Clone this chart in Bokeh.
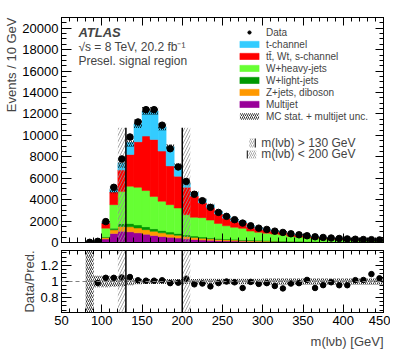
import numpy as np
from bokeh.plotting import figure
from bokeh.models import (Range1d, LinearAxis, FixedTicker, Legend, LegendItem,
                          Title, Label, Span, BoxAnnotation)
from bokeh.layouts import column
from bokeh.embed import file_html
from bokeh.resources import INLINE

FONT = "Liberation Sans"

# ---------------- data (10 GeV bins, 50-450 GeV) ----------------
bin_lo = list(range(50, 450, 10))
data = [0, 0, 0, 20, 110, 1950, 5150, 7800, 9850, 11250, 12400, 12400, 10950, 8750,
        7050, 5700, 4500, 3900, 3280, 2810, 2440, 2130, 1810, 1560, 1340, 1220, 1060,
        940, 815, 720, 630, 530, 470, 420, 375, 335, 305, 275, 265, 240]
multijet = [0, 0, 0, 30, 30, 330, 850, 1050, 1000, 900, 780, 660, 560, 480, 410, 340,
            280, 230, 200, 170, 150, 130, 112, 97, 85, 75, 66, 58, 51, 45, 40, 35, 31,
            27, 24, 21, 19, 17, 15, 13]
zjets = [0, 0, 0, 10, 10, 130, 330, 450, 470, 450, 420, 380, 340, 300, 260, 220, 190,
         160, 140, 120, 105, 92, 80, 70, 62, 55, 49, 44, 39, 35, 31, 28, 25, 22, 20, 18,
         16, 14, 13, 12]
wlight = [0, 0, 0, 10, 8, 80, 160, 250, 300, 290, 270, 240, 210, 190, 170, 150, 130,
          115, 100, 90, 80, 72, 65, 58, 52, 47, 42, 38, 34, 30, 27, 24, 21, 19, 17, 15,
          13, 12, 11, 10]
wheavy = [0, 0, 0, 30, 50, 800, 2190, 3000, 3480, 3510, 3380, 3020, 2740, 2560, 2380,
          1890, 1750, 1815, 1650, 1400, 1225, 1126, 1063, 841, 754, 695, 633, 590, 471,
          415, 342, 325, 277, 237, 222, 199, 168, 152, 136, 133]
ttbar = [0, 0, 0, 5, 12, 470, 1185, 2010, 2965, 4250, 5080, 5320, 4680, 3620, 2960,
         2550, 1980, 1380, 1149, 882, 710, 587, 522, 397, 336, 291, 259, 232, 185, 161,
         135, 126, 105, 90, 84, 75, 64, 57, 52, 49]
tchan = [0, 0, 0, 2, 2, 56, 213, 670, 1121, 1684, 2347, 2657, 2258, 1779, 977, 357,
         333, 300, 250, 205, 170, 145, 125, 105, 92, 82, 73, 65, 56, 49, 43, 38, 33, 29,
         26, 23, 20, 18, 16, 14]
mc_unc = [0, 0, 0, 0.9, 0.07, 0.07, 0.065, 0.06, 0.045, 0.035, 0.03, 0.03, 0.03, 0.03,
          0.03, 0.03, 0.03, 0.035, 0.035, 0.035, 0.035, 0.035, 0.035, 0.035, 0.035,
          0.04, 0.04, 0.04, 0.04, 0.04, 0.04, 0.04, 0.04, 0.04, 0.04, 0.04, 0.04, 0.04,
          0.04, 0.04]
cut_low, cut_high = 130, 200
bin_width = 10

series = [("Multijet", multijet, "#990099"),
          ("Z+jets, diboson", zjets, "#FF9900"),
          ("W+light-jets", wlight, "#009900"),
          ("W+heavy-jets", wheavy, "#66FF33"),
          ("tt\u0304, Wt, s-channel", ttbar, "#FF0000"),
          ("t-channel", tchan, "#33CCFF")]

lo = np.array(bin_lo, dtype=float)
hi = lo + bin_width
ctr = lo + bin_width / 2
dat = np.array(data, dtype=float)

x_major = list(range(50, 451, 50))
x_minor = list(range(50, 451, 10))
y_major = list(range(0, 20001, 2000))
y_minor = list(range(0, 21001, 500))
r_major = [0.8, 1.0, 1.2]
r_minor = [round(0.6 + 0.05 * i, 2) for i in range(17)]

# ---------------- main panel ----------------
p1 = figure(frame_width=322, frame_height=225, x_range=Range1d(50, 450),
            y_range=Range1d(0, 21000), output_backend="svg", toolbar_location=None,
            min_border_left=60, min_border_right=8, min_border_top=17, min_border_bottom=8)
p1.grid.visible = False
p1.outline_line_color = "black"


def style_axis(ax, ticks, labels=True, major=9, minor=5):
    ax.major_tick_in = major
    ax.major_tick_out = 0
    ax.minor_tick_in = minor
    ax.minor_tick_out = 0
    ax.axis_line_color = "black"
    ax.major_tick_line_color = "black"
    ax.minor_tick_line_color = "black"
    ax.major_label_text_font = FONT
    ax.major_label_text_font_size = "13px"
    ax.major_label_text_color = "black"
    if not labels:
        ax.major_label_overrides = {t: "" for t in ticks}
        ax.major_label_text_font_size = "1px"
        ax.major_label_standoff = 0
    else:
        ax.major_label_standoff = 3


xt = FixedTicker(ticks=x_major, minor_ticks=x_minor)
yt = FixedTicker(ticks=y_major, minor_ticks=y_minor)
rt = FixedTicker(ticks=r_major, minor_ticks=r_minor)

p1.xaxis.ticker = xt
p1.yaxis.ticker = yt
style_axis(p1.xaxis[0], x_major, labels=False, major=9, minor=5)
style_axis(p1.yaxis[0], y_major, labels=True, major=10, minor=5)
ax_top = LinearAxis(ticker=xt)
style_axis(ax_top, x_major, labels=False, major=8, minor=4)
p1.add_layout(ax_top, "above")
ax_right = LinearAxis(ticker=yt)
style_axis(ax_right, y_major, labels=False, major=8, minor=4)
p1.add_layout(ax_right, "right")

bottom = np.zeros(len(lo))
rends = {}
for name, vals, col in series:
    v = np.array(vals, dtype=float)
    r = p1.quad(left=lo, right=hi, bottom=bottom, top=bottom + v,
                fill_color=col, line_color=col, line_width=0.5)
    rends[name] = r
    bottom = bottom + v
total = bottom

has_mc = total > 0
unc = np.array(mc_unc) * total
r_unc = p1.quad(left=lo[has_mc], right=hi[has_mc], bottom=(total - unc)[has_mc],
                top=(total + unc)[has_mc], fill_alpha=0, line_alpha=0,
                hatch_pattern="right_diagonal_line", hatch_color="black",
                hatch_scale=4, hatch_weight=0.8)

# selection cut markers
cut_top = 10700
p1.quad(left=[cut_low - bin_width, cut_high], right=[cut_low, cut_high + bin_width],
        bottom=[0, 0], top=[cut_top, cut_top], fill_alpha=0, line_alpha=0,
        hatch_pattern="right_diagonal_line", hatch_color="#909090", hatch_scale=6,
        hatch_weight=0.8)
p1.segment(x0=[cut_low, cut_high], y0=[0, 0], x1=[cut_low, cut_high],
           y1=[cut_top, cut_top], line_color="black", line_width=1.5)

has_dat = dat > 0
r_data = p1.scatter(x=ctr[has_dat], y=dat[has_dat], size=6.5, color="black")

legend_items = [LegendItem(label="Data", renderers=[r_data])]
for name, vals, col in reversed(series):
    legend_items.append(LegendItem(label=name, renderers=[rends[name]]))
legend_items.append(LegendItem(label="MC stat. + multijet unc.", renderers=[r_unc]))
leg = Legend(items=legend_items, location=(176, 120), glyph_width=24, glyph_height=8,
             label_height=12, label_standoff=5, padding=0, margin=0, spacing=0,
             label_text_font=FONT, label_text_font_size="10px",
             background_fill_alpha=0, border_line_alpha=0)
p1.add_layout(leg)

# cut legend
p1.quad(left=[283.3, 282.0], right=[289.5, 292.0], bottom=[8867, 7840],
        top=[9707, 8587], fill_alpha=0, line_alpha=0,
        hatch_pattern="right_diagonal_line", hatch_color="#909090", hatch_scale=4,
        hatch_weight=0.8)
p1.segment(x0=[290.7, 280.8], y0=[8867, 7840], x1=[290.7, 280.8], y1=[9707, 8587],
           line_color="black", line_width=1)
for txt, yv in [("m(l\u03bdb) > 130 GeV", 9290), ("m(l\u03bdb) < 200 GeV", 8220)]:
    p1.add_layout(Label(x=298, y=yv, text=txt, text_font=FONT, text_font_size="12px",
                        text_baseline="middle"))

p1.add_layout(Label(x=71, y=19590, text="ATLAS", text_font=FONT, text_font_size="13px",
                    text_font_style="bold italic", text_baseline="middle"))
p1.add_layout(Label(x=71, y=18280, text="\u221as = 8 TeV, 20.2 fb\u207b\u00b9",
                    text_font=FONT, text_font_size="12px", text_baseline="middle"))
p1.add_layout(Label(x=71, y=16960, text="Presel. signal region", text_font=FONT,
                    text_font_size="12px", text_baseline="middle"))

p1.add_layout(Title(text="Events / 10 GeV", align="right", text_font=FONT,
                    text_font_size="13px", text_font_style="normal", standoff=2), "left")

# ---------------- ratio panel ----------------
p2 = figure(frame_width=322, frame_height=62, x_range=p1.x_range,
            y_range=Range1d(0.62, 1.38), output_backend="svg", toolbar_location=None,
            min_border_left=60, min_border_right=8, min_border_top=0, min_border_bottom=4)
p2.grid.visible = False
p2.outline_line_color = "black"
p2.xaxis.ticker = xt
p2.yaxis.ticker = rt
style_axis(p2.xaxis[0], x_major, labels=True, major=8, minor=4)
style_axis(p2.yaxis[0], r_major, labels=True, major=10, minor=5)
p2.yaxis.major_label_overrides = {1: "1"}
ax_top2 = LinearAxis(ticker=xt)
style_axis(ax_top2, x_major, labels=False, major=8, minor=4)
p2.add_layout(ax_top2, "above")
ax_right2 = LinearAxis(ticker=rt)
style_axis(ax_right2, r_major, labels=False, major=8, minor=4)
p2.add_layout(ax_right2, "right")

rel = np.array(mc_unc)
p2.quad(left=lo[has_mc], right=hi[has_mc], bottom=(1 - rel)[has_mc], top=(1 + rel)[has_mc],
        fill_alpha=0, line_alpha=0, hatch_pattern="right_diagonal_line",
        hatch_color="black", hatch_scale=4, hatch_weight=0.8)
for l, r in [(cut_low - bin_width, cut_low), (cut_high, cut_high + bin_width)]:
    p2.add_layout(BoxAnnotation(left=l, right=r, fill_alpha=0, line_alpha=0,
                                hatch_pattern="right_diagonal_line", hatch_color="#909090",
                                hatch_scale=6, hatch_weight=0.8))
p2.add_layout(Span(location=1, dimension="width", line_color="#808080", line_dash="4 3",
                   line_width=1))
for c in (cut_low, cut_high):
    p2.add_layout(Span(location=c, dimension="height", line_color="black", line_width=1.5))

ok = has_dat & has_mc
ratio = dat[ok] / total[ok]
p2.scatter(x=ctr[ok], y=ratio, size=5.5, color="black")

p2.add_layout(Title(text="Data/Pred.", align="center", text_font=FONT,
                    text_font_size="13px", text_font_style="normal", standoff=2), "left")
p2.add_layout(Title(text="m(l\u03bdb) [GeV]", align="right", text_font=FONT,
                    text_font_size="13px", text_font_style="normal", standoff=8), "below")

layout = column(p1, p2, spacing=0)
open("out.html", "w").write(file_html(layout, INLINE))
